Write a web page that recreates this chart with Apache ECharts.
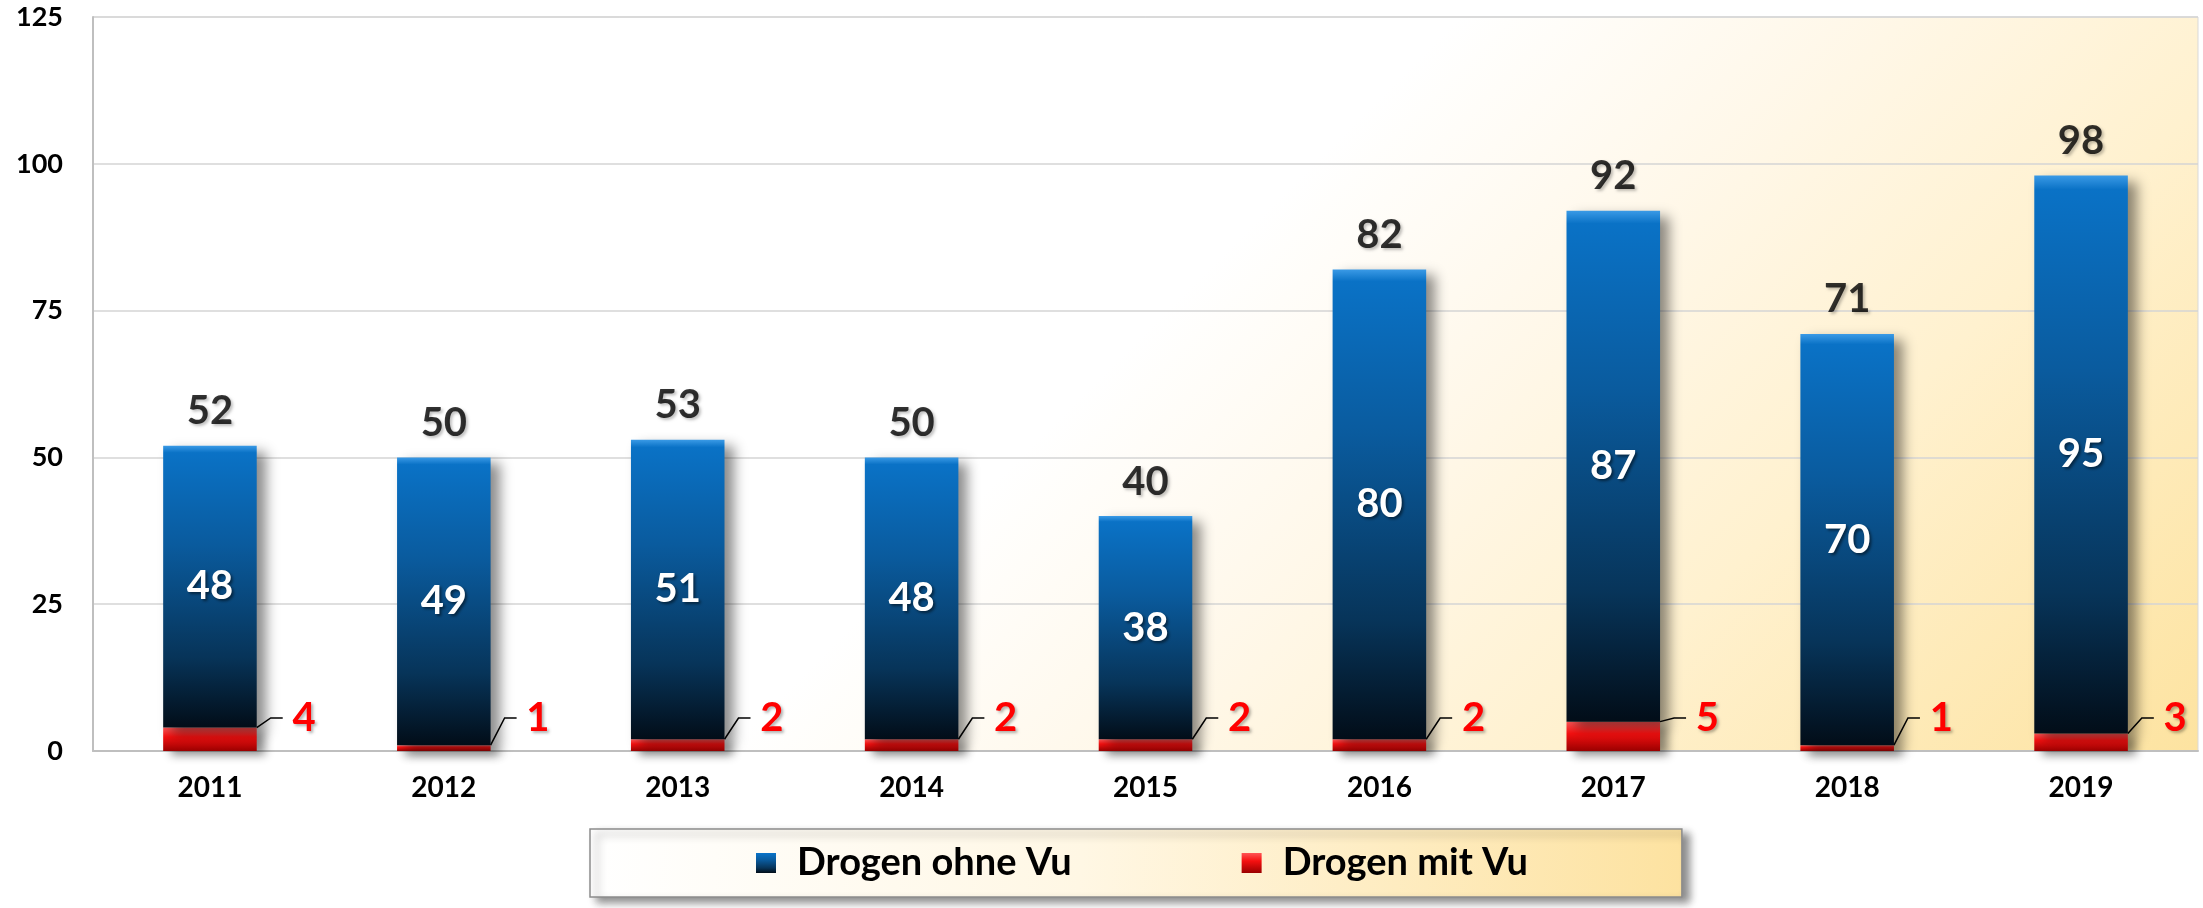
<!DOCTYPE html>
<html>
<head>
<meta charset="utf-8">
<script src="https://cdn.jsdelivr.net/npm/echarts@6/dist/echarts.min.js"></script>
<style>
  html, body { margin: 0; padding: 0; background: #fff; }
  #chart { width: 2203px; height: 908px; }
</style>
</head>
<body>
<div id="chart"></div>
<script>
const years = ['2011', '2012', '2013', '2014', '2015', '2016', '2017', '2018', '2019'];
const ohneVu = [48, 49, 51, 48, 38, 80, 87, 70, 95];
const mitVu = [4, 1, 2, 2, 2, 2, 5, 1, 3];
const yTicks = [0, 25, 50, 75, 100, 125];

const totals = ohneVu.map((v, i) => v + mitVu[i]);
const font = 'Lato, "Open Sans", sans-serif';

const blueFill = new echarts.graphic.LinearGradient(0, 0, 0, 1, [
  { offset: 0, color: '#3a9ae6' },
  { offset: 0.025, color: '#0a72c6' },
  { offset: 0.35, color: '#0a5b9e' },
  { offset: 0.75, color: '#073459' },
  { offset: 1, color: '#020d18' }
]);
const redFill = new echarts.graphic.LinearGradient(0, 0, 0, 1, [
  { offset: 0, color: '#ff5555' },
  { offset: 0.4, color: '#f51010' },
  { offset: 1, color: '#9a0000' }
]);

let chart = echarts.init(document.getElementById('chart'));
chart.setOption({
  animation: false,
  textStyle: { fontFamily: font },
  grid: {
    left: 93, right: 5, top: 17, bottom: 157,
    show: true,
    borderColor: '#d9d9d9',
    borderWidth: 1,
    backgroundColor: new echarts.graphic.LinearGradient(0, 0, 1475, 1475, [
      { offset: 0, color: '#ffffff' },
      { offset: 0.5, color: '#ffffff' },
      { offset: 0.63, color: '#fff8ea' },
      { offset: 0.78, color: '#fff1cf' },
      { offset: 1, color: '#fde3a0' }
    ], true)
  },
  legend: {
    data: ['Drogen ohne Vu', 'Drogen mit Vu'],
    left: 590,
    top: 829,
    padding: [15, 154, 15, 166],
    itemGap: 170,
    itemWidth: 20,
    itemHeight: 20,
    icon: 'rect',
    backgroundColor: new echarts.graphic.LinearGradient(0, 0, 1, 1, [
      { offset: 0, color: '#ffffff' },
      { offset: 0.45, color: '#fff7e4' },
      { offset: 1, color: '#fde2a0' }
    ]),
    borderColor: '#8c8c8c',
    borderWidth: 1.5,
    shadowColor: 'rgba(0,0,0,0.45)',
    shadowBlur: 8,
    shadowOffsetX: 7,
    shadowOffsetY: 5,
    itemStyle: { shadowBlur: 0, shadowOffsetX: 0, shadowOffsetY: 0 },
    textStyle: {
      fontFamily: font, fontSize: 38, fontWeight: 'bold', color: '#000',
      padding: [0, 0, 0, 16]
    }
  },
  xAxis: {
    type: 'category',
    data: years,
    axisTick: { show: false },
    axisLine: { lineStyle: { color: '#bfbfbf', width: 2 } },
    axisLabel: { fontSize: 28, fontWeight: 'bold', color: '#000', margin: 23 }
  },
  yAxis: {
    type: 'value',
    min: yTicks[0],
    max: yTicks[yTicks.length - 1],
    interval: 25,
    axisLine: { show: true, lineStyle: { color: '#bfbfbf', width: 2 } },
    splitLine: { lineStyle: { color: '#d4d4d4', width: 1.5 } },
    axisLabel: { fontSize: 27, fontWeight: 'bold', color: '#000', margin: 30 }
  },
  series: [
    {
      name: 'Drogen mit Vu',
      type: 'bar',
      stack: 'total',
      barWidth: '40%',
      data: mitVu,
      itemStyle: {
        color: redFill,
        shadowColor: 'rgba(0,0,0,0.45)',
        shadowBlur: 10,
        shadowOffsetX: 8,
        shadowOffsetY: 4
      },
      label: {
        show: true,
        position: 'right',
        // leading space leaves a small gap between leader line and number
        formatter: p => ' ' + p.value,
        fontSize: 40,
        fontWeight: 'bold',
        color: '#ff0000',
        textShadowColor: 'rgba(0,0,0,0.3)',
        textShadowBlur: 3,
        textShadowOffsetX: 2,
        textShadowOffsetY: 2
      },
      labelLayout: function (p) {
        return {
          x: p.rect.x + p.rect.width + 26,
          y: p.rect.y + p.rect.height - 33,
          align: 'left',
          verticalAlign: 'middle'
        };
      },
      labelLine: {
        show: true,
        length2: 12,
        lineStyle: { color: '#000', width: 1.5 }
      }
    },
    {
      name: 'Drogen ohne Vu',
      type: 'bar',
      stack: 'total',
      barWidth: '40%',
      data: ohneVu,
      itemStyle: {
        color: blueFill,
        shadowColor: 'rgba(0,0,0,0.45)',
        shadowBlur: 12,
        shadowOffsetX: 9,
        shadowOffsetY: 6
      },
      label: {
        show: true,
        position: 'inside',
        fontSize: 40,
        fontWeight: 'bold',
        color: '#ffffff',
        textShadowColor: 'rgba(0,0,0,0.5)',
        textShadowBlur: 3,
        textShadowOffsetX: 2,
        textShadowOffsetY: 2
      }
    },
    {
      name: 'Summe',
      type: 'scatter',
      data: totals,
      symbolSize: 1,
      itemStyle: { color: 'rgba(0,0,0,0)' },
      z: 5,
      label: {
        show: true,
        position: 'top',
        distance: 13,
        fontSize: 40,
        lineHeight: 42,
        fontWeight: 'bold',
        color: '#000000',
        textShadowColor: 'rgba(0,0,0,0.3)',
        textShadowBlur: 3,
        textShadowOffsetX: 2,
        textShadowOffsetY: 2
      }
    }
  ]
});
</script>
</body>
</html>
